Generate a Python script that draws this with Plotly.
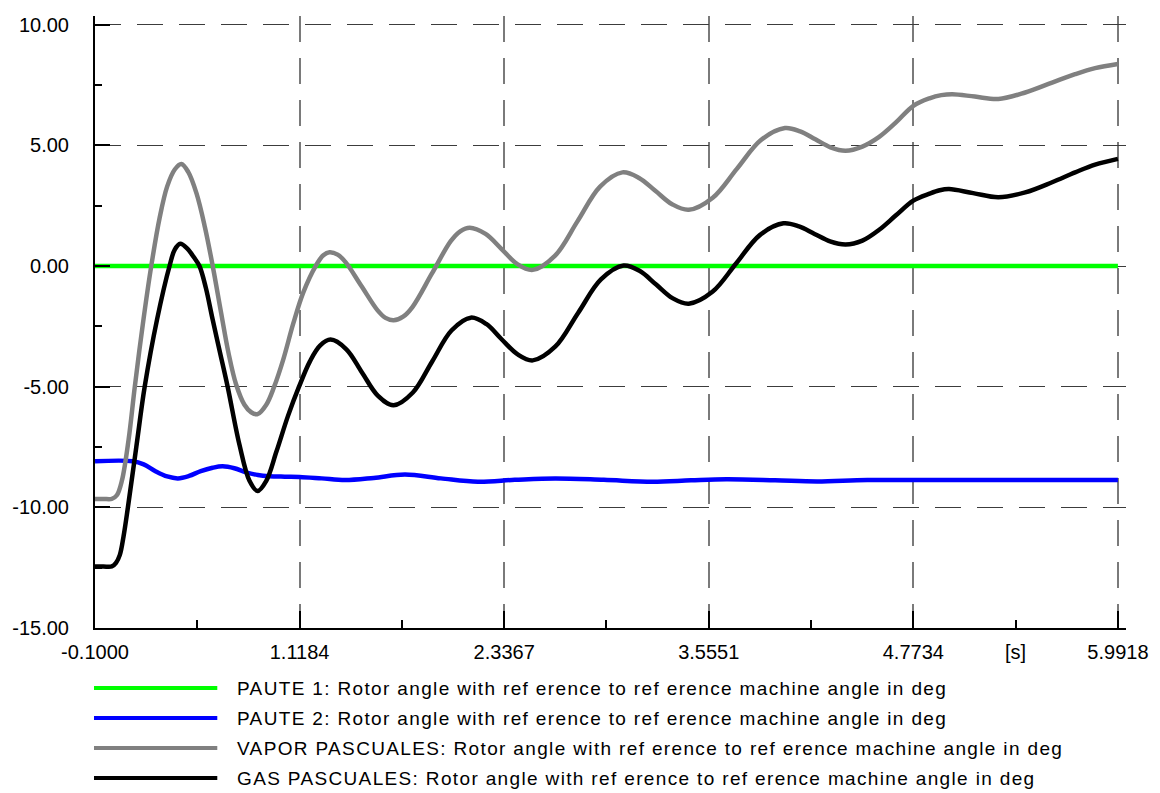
import plotly.graph_objects as go

# ---- data (time in s, rotor angle in deg) ----
t_paute1 = [-0.1, 5.9918]
v_paute1 = [0.0, 0.0]

t_paute2 = [-0.1, 0.125, 0.19, 0.26, 0.33, 0.394, 0.46, 0.53, 0.60, 0.66, 0.73, 0.80,
            0.87, 0.937, 1.03, 1.118, 1.25, 1.39, 1.56, 1.746, 1.96, 2.18, 2.40, 2.64,
            2.93, 3.22, 3.45, 3.66, 3.95, 4.2, 4.5, 5.0, 5.5, 5.9918]
v_paute2 = [-8.09, -8.09, -8.22, -8.50, -8.72, -8.80, -8.70, -8.50, -8.36, -8.30, -8.38, -8.55,
            -8.66, -8.71, -8.73, -8.74, -8.80, -8.87, -8.78, -8.64, -8.80, -8.94, -8.86, -8.80,
            -8.86, -8.94, -8.88, -8.84, -8.88, -8.93, -8.87, -8.87, -8.87, -8.87]

t_vapor = [-0.1, -0.05, 0.0, 0.03, 0.06, 0.10, 0.137, 0.185, 0.235, 0.285, 0.33, 0.375, 0.414,
           0.455, 0.505, 0.555, 0.601, 0.65, 0.695, 0.74, 0.79, 0.83, 0.868,
           0.92, 0.967, 1.02, 1.08, 1.14, 1.214, 1.26, 1.297,
           1.345, 1.392, 1.4875, 1.583, 1.63, 1.678,
           1.735, 1.7915, 1.905, 2.0185, 2.075, 2.132,
           2.226, 2.32, 2.413, 2.507,
           2.64, 2.774, 2.908, 3.041,
           3.14, 3.2385, 3.337, 3.436,
           3.579, 3.7225, 3.866, 4.009,
           4.099, 4.19, 4.28, 4.37,
           4.47, 4.57, 4.67, 4.7734, 4.87, 4.94, 5.006,
           5.14, 5.28, 5.44, 5.60, 5.737, 5.856, 5.9918]
v_vapor = [-9.65, -9.65, -9.65, -9.5, -8.9, -7.2, -5.0, -2.4, 0.0, 2.0, 3.3, 4.0, 4.23,
           3.9, 3.0, 1.6, 0.0, -1.9, -3.6, -4.9, -5.75, -6.06, -6.14,
           -5.75, -5.0, -3.9, -2.4, -1.1, 0.0, 0.45, 0.57,
           0.47, 0.16, -0.84, -1.84, -2.15, -2.25,
           -2.10, -1.69, -0.33, 1.03, 1.44, 1.59,
           1.33, 0.715, 0.09, -0.16,
           0.43, 1.86, 3.29, 3.88,
           3.65, 3.105, 2.56, 2.33,
           2.83, 4.025, 5.22, 5.72,
           5.58, 5.25, 4.92, 4.78,
           4.95, 5.35, 5.95, 6.64, 6.95, 7.08, 7.12,
           7.02, 6.92, 7.19, 7.6, 7.95, 8.2, 8.37]

t_gas = [-0.1, -0.05, 0.0, 0.025, 0.048, 0.07, 0.096, 0.146, 0.196, 0.27, 0.344, 0.375, 0.408,
         0.45, 0.49, 0.522, 0.56, 0.60, 0.645, 0.69, 0.76, 0.82, 0.868,
         0.92, 0.98, 1.05, 1.115, 1.18, 1.24, 1.303,
         1.397, 1.49, 1.584, 1.678,
         1.793, 1.908, 2.023, 2.138,
         2.23, 2.32, 2.415, 2.507,
         2.642, 2.777, 2.913, 3.048,
         3.145, 3.242, 3.339, 3.436,
         3.577, 3.718, 3.859, 4.0,
         4.0925, 4.185, 4.2775, 4.37,
         4.47, 4.57, 4.67, 4.7734, 4.87, 4.93, 4.986,
         5.13, 5.28, 5.44, 5.60, 5.737, 5.856, 5.9918]
v_gas = [-12.45, -12.45, -12.45, -12.3, -11.97, -11.2, -10.0, -7.5, -5.0, -2.2, 0.0, 0.68, 0.92,
         0.72, 0.35, 0.0, -0.9, -2.2, -3.6, -5.0, -7.4, -8.9, -9.32,
         -8.9, -7.7, -6.2, -5.0, -3.95, -3.3, -3.05,
         -3.45, -4.41, -5.37, -5.77,
         -5.24, -3.955, -2.67, -2.14,
         -2.40, -3.025, -3.65, -3.91,
         -3.335, -1.945, -0.555, 0.02,
         -0.21, -0.77, -1.33, -1.56,
         -1.07, 0.105, 1.28, 1.77,
         1.64, 1.33, 1.02, 0.89,
         1.05, 1.5, 2.1, 2.71, 3.0, 3.14, 3.19,
         3.02, 2.85, 3.05, 3.47, 3.88, 4.2, 4.44]

series_names = [
    "PAUTE 1: Rotor angle with ref erence to ref erence machine angle in deg",
    "PAUTE 2: Rotor angle with ref erence to ref erence machine angle in deg",
    "VAPOR PASCUALES: Rotor angle with ref erence to ref erence machine angle in deg",
    "GAS PASCUALES: Rotor angle with ref erence to ref erence machine angle in deg",
]
series_colors = ["#00ff00", "#0000ff", "#808080", "#000000"]

x_tickvals = [-0.1, 1.1184, 2.3367, 3.5551, 4.7734, 5.9918]
x_ticktext = ["-0.1000", "1.1184", "2.3367", "3.5551", "4.7734", "5.9918"]
y_tickvals = [10, 5, 0, -5, -10, -15]
y_ticktext = ["10.00", "5.00", "0.00", "-5.00", "-10.00", "-15.00"]

# ---- figure ----
W, H = 1160, 793
ML, MR, MT, MB = 95, 28, 16, 165
PW, PH = W - ML - MR, H - MT - MB

fig = go.Figure()
for t, v, name, col in zip([t_paute1, t_paute2, t_vapor, t_gas],
                           [v_paute1, v_paute2, v_vapor, v_gas],
                           series_names, series_colors):
    fig.add_trace(go.Scatter(x=t, y=v, mode="lines", name=name, showlegend=False,
                             line=dict(color=col, width=4.5, shape="spline", smoothing=1.0)))

FONT = "Liberation Sans, Arial, sans-serif"

x_minor = [(a + b) / 2 for a, b in zip(x_tickvals[:-1], x_tickvals[1:])]
y_minor = [7.5, 2.5, -2.5, -7.5, -12.5]

fig.update_xaxes(
    range=[-0.1, 6.04], tickmode="array", tickvals=x_tickvals, ticktext=x_ticktext,
    showline=True, linecolor="black", linewidth=2,
    ticks="inside", ticklen=17, tickwidth=2, tickcolor="black",
    showgrid=True, gridcolor="#7a7a7a", gridwidth=1.5, griddash="26px,16px",
    zeroline=False, ticklabelstandoff=5,
    tickfont=dict(family=FONT, size=20, color="black"),
    minor=dict(tickmode="array", tickvals=x_minor, ticks="inside", ticklen=8,
               tickwidth=2, tickcolor="black", showgrid=False),
)
fig.update_yaxes(
    range=[-15, 10.36], tickmode="array", tickvals=y_tickvals, ticktext=y_ticktext,
    showline=True, linecolor="black", linewidth=2,
    ticks="inside", ticklen=15, tickwidth=2, tickcolor="black",
    showgrid=True, gridcolor="#3c3c3c", gridwidth=1, griddash="26px,16px",
    zeroline=False, ticklabelstandoff=20,
    tickfont=dict(family=FONT, size=20, color="black"),
    minor=dict(tickmode="array", tickvals=y_minor, ticks="inside", ticklen=7,
               tickwidth=2, tickcolor="black", showgrid=False),
)

# unit label on the time axis
annotations = [dict(x=5.38, xref="x", y=(628.5 - 652) / PH, yref="paper",
                     text="[s]", showarrow=False, xanchor="center", yanchor="middle",
                     font=dict(family=FONT, size=20, color="black"))]

# legend below the plot: long line samples with text
shapes = []
row_y = [688, 718, 748, 778]
for py, name, col in zip(row_y, series_names, series_colors):
    yp = (MT + PH - py) / PH
    shapes.append(dict(type="line", xref="paper", yref="paper",
                       x0=(94 - ML) / PW, x1=(218 - ML) / PW, y0=yp, y1=yp,
                       line=dict(color=col, width=4)))
    annotations.append(dict(x=(236 - ML) / PW, xref="paper", y=yp, yref="paper",
                            text='<span style="letter-spacing:1.35px">' + name + "</span>",
                            showarrow=False, xanchor="left", yanchor="middle",
                            font=dict(family=FONT, size=19, color="black")))

fig.update_layout(
    width=W, height=H, margin=dict(l=ML, r=MR, t=MT, b=MB, pad=0),
    paper_bgcolor="white", plot_bgcolor="white",
    showlegend=False, shapes=shapes, annotations=annotations,
)

fig.write_html("out.html")
